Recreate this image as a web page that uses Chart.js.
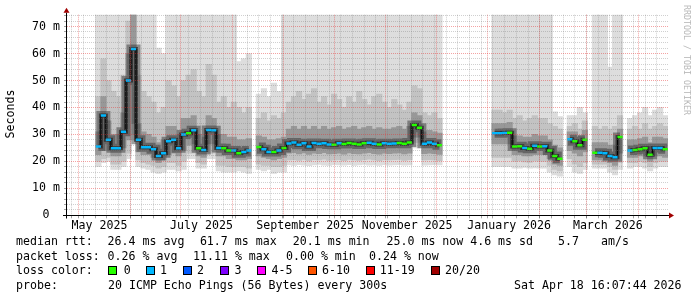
<!DOCTYPE html>
<html>
<head>
<meta charset="utf-8">
<title>SmokePing - last 360 days</title>
<script src="https://cdn.jsdelivr.net/npm/chart.js@4.4.1/dist/chart.umd.min.js"></script>
<style>
    html, body { margin: 0; padding: 0; background: #fff; }
    #wrap { position: relative; width: 697px; height: 297px; overflow: hidden;
            font-family: "DejaVu Sans Mono", monospace; font-size: 11.6px; color: #000; }
    #chart { position: absolute; left: 0; top: 0; }
    .t { position: absolute; white-space: pre; line-height: 14px; }
    .box { position: absolute; width: 7px; height: 7px; border: 1px solid #000; top: 266px; }
    #ytitle { left: -15px; top: 107px; width: 50px; text-align: center; transform: rotate(-90deg); }
    #mark { left: 692px; top: 5px; font-size: 8.3px; line-height: 10px; color: #b8b8b8;
            transform: rotate(90deg); transform-origin: 0 0; }
</style>
</head>
<body>
<div id="wrap">
    <canvas id="chart" width="697" height="297"></canvas>
    <div class="t" id="ytitle">Seconds</div>
    <div class="t" id="mark">RRDTOOL / TOBI OETIKER</div>

    <div class="t" style="left:16px;top:234px">median rtt:</div>
    <div class="t" style="left:107.6px;top:234px">26.4 ms avg</div>
    <div class="t" style="left:199.9px;top:234px">61.7 ms max</div>
    <div class="t" style="left:292.8px;top:234px">20.1 ms min</div>
    <div class="t" style="left:386.5px;top:234px">25.0 ms now</div>
    <div class="t" style="left:470.2px;top:234px">4.6 ms sd</div>
    <div class="t" style="left:558px;top:234px">5.7</div>
    <div class="t" style="left:601px;top:234px">am/s</div>

    <div class="t" style="left:16px;top:248.5px">packet loss:</div>
    <div class="t" style="left:107.6px;top:248.5px">0.26 % avg</div>
    <div class="t" style="left:193px;top:248.5px">11.11 % max</div>
    <div class="t" style="left:286px;top:248.5px">0.00 % min</div>
    <div class="t" style="left:369px;top:248.5px">0.24 % now</div>

    <div class="t" style="left:16px;top:263px">loss color:</div>
    <div id="lossLegend"></div>

    <div class="t" style="left:16px;top:277.5px">probe:</div>
    <div class="t" style="left:108px;top:277.5px">20 ICMP Echo Pings (56 Bytes) every 300s</div>
    <div class="t" style="left:514px;top:277.5px">Sat Apr 18 16:07:44 2026</div>
</div>

<script>
// Sample dates: days after 1 May 2025 (one sample every 3 days)
const sampleDay = [
    12, 15, 18, 21, 24, 27, 30, 33, 36, 39,
    42, 45, 48, 51, 54, 57, 60, 63, 66, 69,
    72, 75, 78, 81, 84, 87, 90, 93, 96, 99,
    102, 105, 108, 111, 114, 117, 120, 123, 126, 129,
    132, 135, 138, 141, 144, 147, 150, 153, 156, 159,
    162, 165, 168, 171, 174, 177, 180, 183, 186, 189,
    192, 195, 198, 201, 204, 207, 210, 213, 216, 219,
    222, 225, 228, 231, 234, 237, 240, 243, 246, 249,
    252, 255, 258, 261, 264, 267, 270, 273, 276, 279,
    282, 285, 288, 291, 294, 297, 300, 303, 306, 309,
    312, 315, 318, 321, 324, 327, 330, 333, 336, 339,
    342, 345, 348, 351
];

// median rtt (ms)
const median = [
    25.5, 37, 28, 24.9, 24.9, 31, 50, 61.7, 28, 25.2,
    25.2, 24.5, 22, 23, 27.5, 28, 24.9, 30, 30.4, 31.5,
    24.9, 24.2, 31.6, 31.5, 25, 24.9, 24, 24, 23, 23.5,
    24, null, 25.3, 24.5, 23.5, 23.5, 24, 25, 26.6, 27,
    26.2, 26.7, 25.5, 26.8, 26.5, 26.7, 26.3, 26.2, 26.7, 26.4,
    26.8, 26.5, 26.3, 26.7, 26.9, 26.5, 26.3, 26.7, 26.5, 26.6,
    26.8, 26.5, 27, 33.5, 32.5, 26.5, 27, 26.5, 26, null,
    null, null, null, null, null, null, null, null, null, 30.4,
    30.4, 30.5, 30.6, 25.5, 25.6, 25, 24.7, 25.8, 25.5, 25.6,
    24, 22, 21, null, 28.2, 27.5, 26, 28, null, 23.2,
    23.2, 23, 22, 21.5, 29, null, 24, 24.2, 24.5, 24.9,
    22.5, 25, 25, 24.5
];

// slowest ping (ms), values above the top are cut off
const pingMax = [
    80, 80, 80, 80, 80, 80, 80, 80, 80, 80,
    80, 80, 62, 60, 80, 80, 80, 80, 80, 80,
    80, 80, 80, 80, 80, 80, 80, 80, 57, 58,
    60, null, 45, 47, 44, 49, 46, 80, 80, 80,
    80, 80, 80, 80, 80, 80, 80, 80, 80, 80,
    80, 80, 80, 80, 80, 80, 80, 80, 80, 80,
    80, 80, 80, 80, 80, 80, 80, 80, 80, null,
    null, null, null, null, null, null, null, null, null, 80,
    80, 80, 80, 80, 80, 80, 80, 80, 80, 80,
    80, 38.4, 36.6, null, 37, 37, 40, 38, null, 80,
    80, 80, 55, 80, 80, null, 36, 37, 38, 40,
    37, 39, 40, 37
];

// fastest ping (ms)
const pingMin = [
    18, 19.5, 20, 17, 17, 18, 21, 28, 18, 17.5,
    17, 16, 15.5, 16, 17, 17, 16.5, 17, 21, 21,
    17.5, 17.5, 21, 21, 16.5, 16, 16, 16, 16.5, 16,
    15.5, null, 17, 16.5, 17, 15.5, 16, 16, 18.7, 18.5,
    18.8, 18.6, 18.4, 18.7, 18.9, 18.6, 18.5, 18.8, 18.7, 18.6,
    18.8, 18.5, 18.7, 18.9, 18.6, 18.7, 18.5, 18.8, 18.6, 18.7,
    18.8, 18.6, 18.7, 25, 25, 18.6, 18.7, 18.8, 18.7, null,
    null, null, null, null, null, null, null, null, null, 18,
    18, 18, 18, 17.5, 17.5, 17.8, 17.5, 17.6, 17.5, 17.5,
    16, 15, 14.5, null, 18, 16, 15.5, 17, null, 17.5,
    17.5, 17.5, 16, 15, 17, null, 17.5, 18, 18, 17.5,
    16.5, 17.5, 18, 18
];

// outer smoke band (ms)
const midHi = [
    44, 58, 50, 46, 44, 52, 72, 80, 52, 46,
    44, 42, 38, 40, 50, 48, 44, 50, 52, 54,
    46, 44, 56, 52, 42, 44, 40, 42, 40, 38,
    40, null, 36, 38, 35, 37, 36, 38, 42, 44,
    46, 43, 45, 47, 42, 44, 41, 45, 43, 40,
    44, 42, 46, 43, 41, 44, 45, 42, 40, 43,
    41, 39, 42, 48, 47, 38, 37, 38, 36, null,
    null, null, null, null, null, null, null, null, null, 39,
    39, 38, 39, 36, 37, 35, 36, 37, 36, 36,
    34, 33, 32, null, 33, 34, 32, 35, null, 33,
    32, 33, 32, 33, 37, null, 32, 33, 32, 34,
    32, 33, 34, 33
];
const midLo = [
    20, 21, 21.5, 19, 19, 20, 23, 30, 20.5, 19.5,
    19, 18.5, 17.5, 18, 19.5, 19.5, 18.5, 20, 23, 23,
    19.5, 19, 23, 23, 18.5, 18.5, 18, 18, 18, 18,
    17.5, null, 19, 18.5, 18.5, 18, 18, 18.5, 20.5, 20.6,
    20.4, 20.7, 20.2, 20.6, 20.5, 20.8, 20.4, 20.5, 20.6, 20.3,
    20.7, 20.5, 20.4, 20.6, 20.8, 20.5, 20.3, 20.6, 20.5, 20.6,
    20.7, 20.4, 20.6, 27, 27, 20.5, 20.6, 20.5, 20.3, null,
    null, null, null, null, null, null, null, null, null, 21.5,
    21.5, 21.5, 21.5, 20, 20.2, 19.8, 19.6, 20.2, 20, 20,
    18.5, 17, 16.5, null, 21, 19, 18, 19.5, null, 19,
    19, 19, 18, 17, 19.5, null, 19.5, 19.5, 20, 19.5,
    18, 19.5, 20, 20
];

// inner smoke band (ms)
const coreHi = [
    31, 44, 35, 30, 30, 38, 60, 75, 34, 31,
    30, 29, 27, 28, 33, 33, 30, 36, 36, 37,
    30, 29, 37, 36, 30, 30, 29, 29, 28, 28,
    28.5, null, 29.5, 29, 28, 28, 28.5, 29, 32, 33,
    32, 33, 32, 33, 32, 33, 32, 32.5, 33, 32,
    32.5, 33, 32, 32.5, 33, 32, 32.5, 32, 32, 32.5,
    33, 32, 33, 38, 37, 31, 31.5, 31, 30.5, null,
    null, null, null, null, null, null, null, null, null, 34,
    34, 34, 34.5, 29.5, 29.5, 29, 29, 30, 29.5, 29.5,
    28, 26, 25, null, 31, 31, 29.5, 31.5, null, 27,
    27, 27, 26, 26, 32, null, 28, 28, 28.5, 29,
    27, 29, 29, 28.5
];
const coreLo = [
    22.5, 24, 24, 22, 22, 25, 28, 34, 23.5, 22.5,
    22.5, 21.5, 19.5, 20.5, 22.5, 23, 22, 24, 26, 26.5,
    22, 21.5, 26.5, 26.5, 22, 22, 21, 21, 20.5, 20.5,
    21, null, 22, 21.5, 21, 20.5, 21, 21.5, 23, 23.2,
    22.8, 23.1, 22.6, 23, 22.9, 23.2, 22.8, 22.9, 23, 22.7,
    23.1, 22.9, 22.8, 23, 23.2, 22.9, 22.7, 23, 22.9, 23,
    23.1, 22.8, 23, 29, 29, 22.9, 23, 22.9, 22.6, null,
    null, null, null, null, null, null, null, null, null, 26.5,
    26.5, 26.5, 26.5, 22.5, 22.5, 22, 22, 22.5, 22.5, 22.5,
    21, 19, 18.5, null, 24, 23, 22, 23.5, null, 20.5,
    20.5, 20, 19.5, 18.5, 23, null, 21.5, 21.5, 22, 22,
    20, 22, 22, 21.5
];

// lost pings per sample (index into lossColors)
const lossIdx = [
    1, 1, 1, 1, 1, 1, 1, 1, 1, 1,
    1, 1, 1, 1, 1, 1, 1, 1, 0, 1,
    0, 1, 1, 1, 1, 0, 0, 1, 0, 1,
    1, null, 0, 1, 1, 0, 1, 0, 1, 1,
    1, 1, 1, 1, 1, 1, 1, 0, 1, 0,
    0, 0, 0, 0, 1, 1, 0, 1, 1, 1,
    0, 0, 0, 0, 0, 1, 1, 1, 0, null,
    null, null, null, null, null, null, null, null, null, 1,
    1, 1, 0, 0, 0, 1, 0, 1, 0, 1,
    0, 0, 0, null, 1, 0, 0, 0, null, 0,
    1, 1, 1, 1, 0, null, 1, 0, 0, 0,
    0, 1, 1, 0
];

const lossLabels = ['0', '1', '2', '3', '4-5', '6-10', '11-19', '20/20'];
const lossColors = ['#26ff00', '#00b8ff', '#0059ff', '#7e00ff', '#ff00ff', '#ff5500', '#ff0000', '#a00000'];

// axis: month starts (days after 1 May 2025) and the months that get a label
const monthStarts = [0, 31, 61, 92, 123, 153, 184, 214, 245, 276, 304, 335];
const labelMonths = [0, 61, 123, 184, 245, 304];
const monthLabels = ['May 2025', 'July 2025', 'September 2025', 'November 2025', 'January 2026', 'March 2026'];

// legend boxes for the loss colours
const boxLeft = [108, 146, 182.5, 219.5, 257.3, 308, 366, 431];
const textLeft = [123.8, 160, 197, 234.6, 271.6, 322, 379.8, 445];
const legendEl = document.getElementById('lossLegend');
lossLabels.forEach((label, i) => {
    const box = document.createElement('div');
    box.className = 'box';
    box.style.left = boxLeft[i] + 'px';
    box.style.background = lossColors[i];
    legendEl.appendChild(box);
    const txt = document.createElement('div');
    txt.className = 't';
    txt.style.left = textLeft[i] + 'px';
    txt.style.top = '263px';
    txt.textContent = label;
    legendEl.appendChild(txt);
});

const majorGrid = 'rgba(230, 50, 50, 0.45)';
const minorGrid = 'rgba(120, 120, 120, 0.35)';
const monoFont = { family: 'DejaVu Sans Mono', size: 11.6 };

// x ticks: weekly minor lines, monthly major lines, labels mid-month
const xTicks = [];
for (let d = -4; d <= 352; d += 7) xTicks.push({ value: d, kind: 'week' });
monthStarts.forEach(d => xTicks.push({ value: d, kind: 'month' }));
labelMonths.forEach((d, i) => xTicks.push({ value: d + 12.7, kind: 'label', text: monthLabels[i] }));
xTicks.sort((a, b) => a.value - b.value);

const yTicks = [];
for (let v = 0; v <= 74; v += 2) yTicks.push(v);

function band(lo, hi) {
    const out = [];
    sampleDay.forEach((d, i) => {
        if (lo[i] != null && hi[i] != null) out.push({ x: d, y: [lo[i], hi[i]] });
    });
    return out;
}

const medianPts = sampleDay.map((d, i) => ({ x: d, y: median[i] }));
const lossPts = [];
const lossPtColors = [];
sampleDay.forEach((d, i) => {
    if (median[i] == null) return;
    lossPts.push({ x: d, y: median[i] });
    lossPtColors.push(lossColors[lossIdx[i]]);
});

const barStyle = { type: 'bar', grouped: false, barThickness: 5.5, borderWidth: 0 };
const lineStyle = { type: 'line', stepped: 'middle', pointRadius: 0, spanGaps: false, fill: false };

const axisArrows = {
    id: 'axisArrows',
    afterDraw(chart) {
        const { ctx, chartArea: a } = chart;
        const ax = a.left - 0.5;
        const ay = Math.round(a.bottom) + 0.5;
        ctx.save();
        ctx.strokeStyle = '#000';
        ctx.lineWidth = 1;
        ctx.beginPath();
        ctx.moveTo(ax, ay + 3);
        ctx.lineTo(ax, a.top - 2);
        ctx.moveTo(a.left - 4, ay);
        ctx.lineTo(a.right + 2, ay);
        ctx.stroke();
        ctx.fillStyle = '#a00000';
        ctx.beginPath();
        ctx.moveTo(ax - 3, a.top - 2);
        ctx.lineTo(ax + 3, a.top - 2);
        ctx.lineTo(ax, a.top - 7);
        ctx.closePath();
        ctx.fill();
        ctx.beginPath();
        ctx.moveTo(a.right + 1, ay - 3);
        ctx.lineTo(a.right + 1, ay + 3);
        ctx.lineTo(a.right + 6, ay);
        ctx.closePath();
        ctx.fill();
        ctx.restore();
    }
};

new Chart(document.getElementById('chart'), {
    type: 'bar',
    data: {
        datasets: [
            { ...barStyle, data: band(pingMin, pingMax), backgroundColor: '#dddddd', order: 6 },
            { ...barStyle, data: band(midLo, midHi), backgroundColor: '#c3c3c3', order: 5 },
            { ...barStyle, data: band(coreLo, coreHi), backgroundColor: '#989898', order: 4 },
            { ...lineStyle, data: medianPts, borderColor: 'rgba(40, 40, 40, 0.45)', borderWidth: 9, order: 3 },
            { ...lineStyle, data: medianPts, borderColor: 'rgba(20, 20, 20, 0.6)', borderWidth: 4, order: 2 },
            { ...lineStyle, data: medianPts, borderColor: '#000', borderWidth: 1, order: 1 },
            {
                type: 'line', data: lossPts, showLine: false, order: 0,
                pointStyle: 'line', pointRadius: 2.6, pointHoverRadius: 2.6,
                pointBorderWidth: 2.5, pointBorderColor: lossPtColors
            }
        ]
    },
    options: {
        responsive: false,
        animation: false,
        devicePixelRatio: 1,
        layout: { padding: { left: 0, right: 29, top: 14.7, bottom: 0 } },
        plugins: { legend: { display: false }, tooltip: { enabled: false } },
        scales: {
            x: {
                type: 'linear', min: -6.76, max: 352.7, bounds: 'data', offset: false,
                afterFit: s => { s.height = 81.7; },
                afterBuildTicks: s => { s.ticks = xTicks.map(t => ({ ...t })); },
                grid: {
                    z: 1, offset: false, tickLength: 3,
                    color: c => c.tick && c.tick.kind === 'month' ? majorGrid : (c.tick && c.tick.kind === 'week' ? minorGrid : 'rgba(0,0,0,0)'),
                    tickColor: c => c.tick && c.tick.kind === 'label' ? 'rgba(0,0,0,0)' : 'rgba(100,100,100,0.6)'
                },
                border: { display: false, dash: [1, 1] },
                ticks: {
                    autoSkip: false, maxRotation: 0, padding: 1, color: '#000', font: monoFont,
                    callback: (v, i, ticks) => ticks[i].text || ''
                }
            },
            y: {
                min: 0, max: 74.4, bounds: 'data',
                afterFit: s => { s.width = 67; },
                afterBuildTicks: s => { s.ticks = yTicks.map(v => ({ value: v })); },
                grid: {
                    z: 1, tickLength: 3,
                    color: c => c.tick && c.tick.value % 10 === 0 ? majorGrid : minorGrid,
                    tickColor: 'rgba(100,100,100,0.6)'
                },
                border: { display: false, dash: [1, 1] },
                ticks: {
                    autoSkip: false, crossAlign: 'center', padding: 4, color: '#000', font: monoFont,
                    callback: v => v % 10 ? '' : (v === 0 ? '0' : v + ' m')
                }
            }
        }
    },
    plugins: [axisArrows]
});
</script>
</body>
</html>
